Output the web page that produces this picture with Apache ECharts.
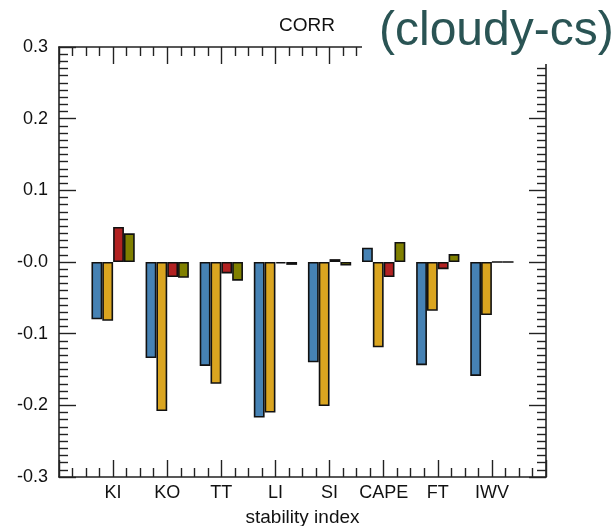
<!DOCTYPE html>
<html>
<head>
<meta charset="utf-8">
<script src="https://cdn.jsdelivr.net/npm/echarts@6/dist/echarts.min.js"></script>
<style>html,body{margin:0;padding:0;background:#fff}#c{width:616px;height:526px}</style>
</head>
<body>
<div id="c"></div>
<script>
const categories = ['KI', 'KO', 'TT', 'LI', 'SI', 'CAPE', 'FT', 'IWV'];
const seriesBlue   = [-0.080, -0.134, -0.145, -0.217, -0.140,  0.020, -0.144, -0.159];
const seriesOrange = [-0.082, -0.208, -0.170, -0.210, -0.201, -0.119, -0.068, -0.074];
const seriesRed    = [ 0.049, -0.021, -0.016, -0.002,  0.004, -0.021, -0.010,  0.000];
const seriesOlive  = [ 0.040, -0.022, -0.026, -0.004, -0.005,  0.028,  0.011,  0.000];
const yTicks = [-0.3, -0.2, -0.1, 0, 0.1, 0.2, 0.3];

const FONT = '"Liberation Sans", Arial, sans-serif';
const chart = echarts.init(document.getElementById('c'));
const slotData = [''].concat(categories, ['']);
const pad = a => [null].concat(a, [null]);

function barSeries(name, data, color) {
  return {
    name, type: 'bar', xAxisIndex: 0, yAxisIndex: 0,
    data: pad(data), barWidth: '20%', barGap: '0%',
    itemStyle: { color, borderColor: '#111', borderWidth: 1.6 },
    animation: false
  };
}
const yFmt = v => (Math.abs(v) < 1e-9 ? '-0.0' : v.toFixed(1));
const tickStyle = { color: '#222', width: 1.4 };
const lineStyle = { color: '#222', width: 1.6 };

chart.setOption({
  animation: false,
  backgroundColor: '#fff',
  grid: { left: 59, right: 70, top: 47, bottom: 49, containLabel: false, outerBoundsMode: 'none' },
  title: {
    text: 'CORR', left: 302, top: 11, textAlign: 'center',
    textStyle: { fontFamily: FONT, fontSize: 19, fontWeight: 'normal', color: '#111' }
  },
  xAxis: [
    { type: 'category', data: slotData, boundaryGap: false, show: false, position: 'bottom',
      axisLine: { onZero: false } },
    {
      type: 'value', min: 0, max: 9, interval: 1, position: 'bottom',
      name: 'stability index', nameLocation: 'middle', nameGap: 31,
      nameTextStyle: { fontFamily: FONT, fontSize: 19, color: '#111' },
      axisLine: { onZero: false, lineStyle },
      axisTick: { inside: true, length: 17, lineStyle: tickStyle },
      minorTick: { show: true, splitNumber: 4, length: 9, lineStyle: tickStyle },
      splitLine: { show: false },
      axisLabel: { fontFamily: FONT, fontSize: 18, color: '#111', margin: 7,
        formatter: v => categories[Math.round(v) - 1] || '' }
    },
    {
      type: 'value', min: 0, max: 9, interval: 1, position: 'top',
      axisLine: { onZero: false, lineStyle },
      axisTick: { inside: true, length: 17, lineStyle: tickStyle },
      minorTick: { show: true, splitNumber: 4, length: 9, lineStyle: tickStyle },
      splitLine: { show: false },
      axisLabel: { show: false }
    }
  ],
  yAxis: [
    {
      type: 'value', min: yTicks[0], max: yTicks[yTicks.length - 1], interval: 0.1, position: 'left',
      axisLine: { show: true, onZero: false, lineStyle },
      axisTick: { show: true, inside: true, length: 17, lineStyle: tickStyle },
      minorTick: { show: true, splitNumber: 10, length: 9, lineStyle: tickStyle },
      splitLine: { show: false },
      axisLabel: { fontFamily: FONT, fontSize: 18, color: '#111', margin: 11, formatter: yFmt }
    },
    {
      type: 'value', min: yTicks[0], max: yTicks[yTicks.length - 1], interval: 0.1, position: 'right',
      axisLine: { show: true, onZero: false, lineStyle },
      axisTick: { show: true, inside: true, length: 17, lineStyle: tickStyle },
      minorTick: { show: true, splitNumber: 10, length: 9, lineStyle: tickStyle },
      splitLine: { show: false },
      axisLabel: { show: false }
    }
  ],
  series: [
    barSeries('blue', seriesBlue, '#4682b4'),
    barSeries('orange', seriesOrange, '#daa520'),
    barSeries('red', seriesRed, '#b22222'),
    barSeries('olive', seriesOlive, '#808000')
  ],
  graphic: [
    { type: 'rect', left: 362, top: 0, z: 100, shape: { width: 254, height: 64 }, style: { fill: '#fff' } },
    { type: 'text', left: 379, top: 8, z: 101,
      style: { text: '(cloudy-cs)', font: '48px "Liberation Sans", Arial, sans-serif', fill: '#2a5454' } }
  ]
});
</script>
</body>
</html>
